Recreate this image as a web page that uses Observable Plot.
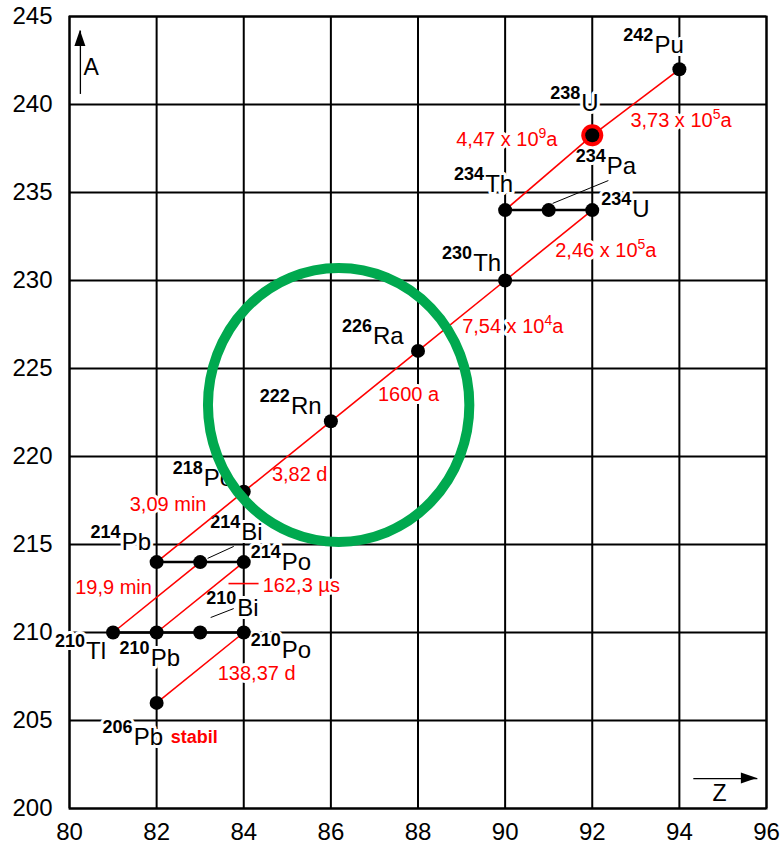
<!DOCTYPE html>
<html><head><meta charset="utf-8">
<script src="https://cdn.jsdelivr.net/npm/d3@7"></script>
<script src="https://cdn.jsdelivr.net/npm/@observablehq/plot@0.6"></script>
<style>body{margin:0;background:#fff}#chart svg{display:block}</style>
</head><body><div id="chart"></div>
<script>
// ---- data ----
const xTicks = [80, 82, 84, 86, 88, 90, 92, 94, 96];
const yTicks = [200, 205, 210, 215, 220, 225, 230, 235, 240, 245];

const nuclides    = ["Pu242","U238","Th234","Pa234","U234","Th230","Ra226","Rn222","Po218","Pb214","Bi214","Po214","Tl210","Pb210","Bi210","Po210","Pb206"];
const symbols     = ["Pu","U","Th","Pa","U","Th","Ra","Rn","Po","Pb","Bi","Po","Tl","Pb","Bi","Po","Pb"];
const massNumbers = ["242","238","234","234","234","230","226","222","218","214","214","214","210","210","210","210","206"];
const protonZ     = [94, 92, 90, 91, 92, 90, 88, 86, 84, 82, 83, 84, 81, 82, 83, 84, 82];
const massA       = [242, 238.25, 234, 234, 234, 230, 226, 222, 218, 214, 214, 214, 210, 210, 210, 210, 206];

const alphaDecays = [["Pu242","U238"],["U238","Th234"],["U234","Th230"],["Th230","Ra226"],["Ra226","Rn222"],["Rn222","Po218"],["Po218","Pb214"],["Bi214","Tl210"],["Po214","Pb210"],["Po210","Pb206"]];
const betaDecays  = [["Th234","Pa234"],["Pa234","U234"],["Pb214","Bi214"],["Bi214","Po214"],["Tl210","Pb210"],["Pb210","Bi210"],["Bi210","Po210"]];

const halfLifeOf = ["Pu242","U238","U234","Th230","Ra226","Rn222","Po218","Bi214","Po214","Po210","Pb206"];
const halfLives  = ["3,73 x 10^5a","4,47 x 10^9a","2,46 x 10^5a","7,54 x 10^4a","1600 a","3,82 d","3,09 min","19,9 min","162,3 µs","138,37 d","stabil"];

const highlighted = ["U238"];

// leader lines (data units)
const leaders = [
  {z1: 92.37, a1: 235.68, z2: 91.09, a2: 234.38, color: "black"},
  {z1: 83.77, a1: 214.89, z2: 83.17, a2: 214.21, color: "black"},
  {z1: 83.77, a1: 211.36, z2: 83.24, a2: 210.85, color: "black"},
  {z1: 83.65, a1: 212.78, z2: 84.34, a2: 212.78, color: "red"}
];
// green ellipse (data units)
const ring = {z: 86.19, a: 222.9, rz: 3.0, ra: 7.78};
// axis arrows and names
const axisArrows = [
  {z1: 80.25, a1: 240.6, z2: 80.25, a2: 244.2},
  {z1: 94.32, a1: 201.7, z2: 95.79, a2: 201.7}
];
const axisNames = ["A", "Z"];
const axisNameZ = [80.32, 94.76];
const axisNameA = [241.65, 200.4];

// ---- layout (pixel offsets of labels) ----
const nameOffset = {Pu242:[-25,-16],U238:[-11,-24],Th234:[-20,-18],Pa234:[58,-36],U234:[40,7],Th230:[-32,-10],Ra226:[-45,-7],Rn222:[-40,-7],Po218:[-40,-6],Pb214:[-35,-12],Bi214:[41,-22],Po214:[38,8],Tl210:[-27,26],Pb210:[-6,33],Bi210:[37,-17],Po210:[38,25],Pb206:[-23,42]};
const halfLifeOffset = {Pu242:[-49,58],U238:[-136,11],U234:[-37,47],Th230:[-43,52],Ra226:[-40,50],Rn222:[-59,60],Po218:[-114,19],Bi214:[-125,32],Po214:[19,30],Po210:[-26,47],Pb206:[14,40]};

const idx = id => nuclides.indexOf(id);
const FONT = "'Liberation Sans', Arial, Helvetica, sans-serif";

function labelMarks(pass) {
  const halo = pass === "halo";
  const st = fill => halo ? {fill: "white", stroke: "white", strokeWidth: 6, strokeLinejoin: "round"} : {fill};
  const marks = [];
  nuclides.forEach((id, i) => {
    const [dx, dy] = nameOffset[id];
    marks.push(Plot.text([i], {x: j => protonZ[j], y: j => massA[j], text: j => massNumbers[j],
      dx: dx - 1, dy: dy - 12, textAnchor: "end", lineAnchor: "bottom", fontSize: 18, fontWeight: "bold", ...st("black")}));
    marks.push(Plot.text([i], {x: j => protonZ[j], y: j => massA[j], text: j => symbols[j],
      dx, dy, textAnchor: "start", lineAnchor: "bottom", fontSize: 24, ...st("black")}));
  });
  halfLifeOf.forEach((id, k) => {
    const [dx, dy] = halfLifeOffset[id];
    const stable = id === "Pb206";
    marks.push(Plot.text([idx(id)], {x: j => protonZ[j], y: j => massA[j], text: () => halfLives[k],
      dx, dy, textAnchor: "start", lineAnchor: "bottom", fontSize: stable ? 18 : 20,
      fontWeight: stable ? "bold" : "normal", ...st("red")}));
  });
  return marks;
}

function decorations(index, scales) {
  const x = scales.x, y = scales.y;
  const g = d3.create("svg:g");
  for (const a of axisArrows) {
    const x1 = x(a.z1), y1 = y(a.a1), x2 = x(a.z2), y2 = y(a.a2);
    const len = Math.hypot(x2 - x1, y2 - y1), ux = (x2 - x1) / len, uy = (y2 - y1) / len;
    const hl = 16, hw = 5.5;
    const bx = x2 - ux * hl, by = y2 - uy * hl;
    g.append("path")
      .attr("d", `M${x2},${y2}L${bx - uy * hw},${by + ux * hw}L${bx + uy * hw},${by - ux * hw}Z`)
      .attr("fill", "black");
  }
  g.append("ellipse")
    .attr("cx", x(ring.z)).attr("cy", y(ring.a))
    .attr("rx", Math.abs(x(ring.z + ring.rz) - x(ring.z)))
    .attr("ry", Math.abs(y(ring.a - ring.ra) - y(ring.a)))
    .attr("fill", "none").attr("stroke", "#00a94f").attr("stroke-width", 10);
  return g.node();
}

const plot = Plot.plot({
  width: 783, height: 845,
  marginLeft: 69, marginRight: 17, marginTop: 16, marginBottom: 37,
  x: {domain: [80, 96]},
  y: {domain: [200, 245]},
  style: {fontFamily: FONT, background: "white", color: "black"},
  marks: [
    Plot.ruleX(xTicks, {stroke: "black", strokeWidth: 2}),
    Plot.ruleY(yTicks, {stroke: "black", strokeWidth: 2}),
    Plot.frame({stroke: "black", strokeWidth: 2}),
    ...labelMarks("halo"),
    Plot.axisX(xTicks, {tickSize: 0, tickPadding: 14, fontSize: 24, label: null, fill: "black"}),
    Plot.axisY(yTicks, {tickSize: 0, tickPadding: 17, fontSize: 24, label: null, fill: "black"}),
    ...labelMarks("text"),
    Plot.link(alphaDecays, {x1: d => protonZ[idx(d[0])], y1: d => massA[idx(d[0])], x2: d => protonZ[idx(d[1])], y2: d => massA[idx(d[1])], stroke: "red", strokeWidth: 1.6}),
    Plot.link(betaDecays, {x1: d => protonZ[idx(d[0])], y1: d => massA[idx(d[0])], x2: d => protonZ[idx(d[1])], y2: d => massA[idx(d[1])], stroke: "black", strokeWidth: 2.5}),
    Plot.link(leaders, {x1: "z1", y1: "a1", x2: "z2", y2: "a2", stroke: d => d.color, strokeWidth: d => d.color === "red" ? 1.6 : 1}),
    Plot.dot(highlighted.map(idx), {x: j => protonZ[j], y: j => massA[j], r: 11, fill: "red"}),
    Plot.dot(d3.range(nuclides.length), {x: j => protonZ[j], y: j => massA[j], r: 7, fill: "black"}),
    Plot.link(axisArrows, {x1: "z1", y1: "a1", x2: "z2", y2: "a2", stroke: "black", strokeWidth: 1.3}),
    Plot.text(d3.range(axisNames.length), {x: j => axisNameZ[j], y: j => axisNameA[j], text: j => axisNames[j], textAnchor: "start", lineAnchor: "bottom", fontSize: 23, fill: "black"}),
    decorations
  ]
});

// superscript exponents in half-life labels
d3.select(plot).selectAll("text").each(function() {
  const t = this.textContent;
  const m = t.match(/^(.*)\^(\d+)(.*)$/);
  if (!m) return;
  this.textContent = "";
  const s = d3.select(this);
  s.append("tspan").text(m[1]);
  s.append("tspan").attr("dy", -8).attr("font-size", 14).text(m[2]);
  s.append("tspan").attr("dy", 8).text(m[3]);
});

document.getElementById("chart").appendChild(plot);
</script>
</body></html>
